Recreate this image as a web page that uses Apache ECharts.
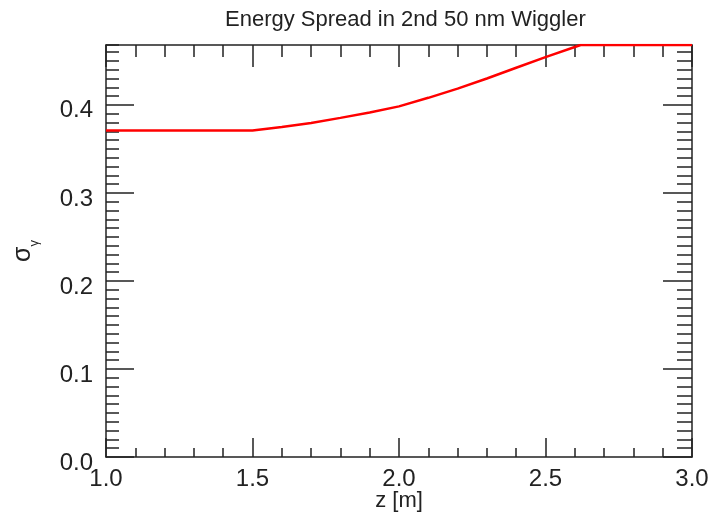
<!DOCTYPE html>
<html>
<head>
<meta charset="utf-8">
<script src="https://cdn.jsdelivr.net/npm/echarts@6/dist/echarts.min.js"></script>
<style>
  html, body { margin: 0; padding: 0; background: #fff; }
  #chart { width: 717px; height: 516px; }
</style>
</head>
<body>
<div id="chart"></div>
<script>
// Energy spread along the second 50 nm wiggler
const zPositions = [1.0, 1.1, 1.2, 1.3, 1.4, 1.5, 1.6, 1.7, 1.8, 1.9, 2.0, 2.1, 2.2, 2.3, 2.4, 2.5, 2.6, 2.62, 2.7, 2.8, 2.9, 3.0];
const sigmaGamma = [0.371, 0.371, 0.371, 0.371, 0.371, 0.371, 0.3748, 0.3795, 0.3852, 0.3913, 0.3983, 0.408, 0.4185, 0.430, 0.4422, 0.4542, 0.4657, 0.468, 0.468, 0.468, 0.468, 0.468];

const titleText = 'Energy Spread in 2nd 50 nm Wiggler';
const xName = 'z [m]';
const yMax = 0.468;

const FONT = 'Liberation Sans, Arial, Helvetica, sans-serif';
const INK = '#222';

const chart = echarts.init(document.getElementById('chart'), null, { renderer: 'canvas' });

const fmt1 = v => Number(v).toFixed(1);

function frameX(position, showLabels, majorLen, minorLen) {
  return {
    type: 'value', position: position, min: 1, max: 3, interval: 0.5,
    name: showLabels ? xName : '',
    nameLocation: 'middle', nameGap: 33, nameMoveOverlap: false,
    nameTextStyle: { fontFamily: FONT, fontSize: 22, color: INK },
    axisLine: { show: true, onZero: false, lineStyle: { color: INK, width: 1.5 } },
    axisTick: { show: true, inside: true, length: majorLen, lineStyle: { color: INK, width: 1.5 } },
    minorTick: { show: true, splitNumber: 5, length: minorLen, lineStyle: { color: INK, width: 1.5 } },
    axisLabel: { show: showLabels, margin: 10, formatter: fmt1, fontFamily: FONT, fontSize: 24, color: INK },
    splitLine: { show: false }, minorSplitLine: { show: false }
  };
}

function frameY(position, interval, showLabels, tickLen, showLine) {
  return {
    type: 'value', position: position, min: 0, max: yMax, interval: interval, offset: 0,
    axisLine: { show: showLine, onZero: false, lineStyle: { color: INK, width: 1.5 } },
    axisTick: { show: true, inside: true, length: tickLen, lineStyle: { color: INK, width: 1.5 } },
    axisLabel: {
      show: showLabels, showMaxLabel: false, margin: 13, formatter: fmt1,
      fontFamily: FONT, fontSize: 24, color: INK,
      verticalAlign: 'top', lineHeight: 12
    },
    splitLine: { show: false }
  };
}

const yLeft = frameY('left', 0.1, true, 28, true);
yLeft.name = '{s|σ}{g|γ}';
yLeft.nameLocation = 'middle';
yLeft.nameRotate = 90;
yLeft.nameGap = 70;
yLeft.nameMoveOverlap = false;
yLeft.nameTextStyle = {
  fontFamily: FONT, color: INK,
  rich: {
    s: { fontFamily: FONT, fontSize: 25, color: INK },
    g: { fontFamily: FONT, fontSize: 13, color: INK, verticalAlign: 'bottom', padding: [0, 0, -5, 0] }
  }
};

const option = {
  animation: false,
  backgroundColor: '#fff',
  title: {
    text: titleText, left: 220, top: 4,
    textStyle: { fontFamily: FONT, fontSize: 22, fontWeight: 'normal', color: INK }
  },
  grid: { left: 106, right: 25, top: 45, bottom: 59, containLabel: false, outerBoundsMode: 'none' },
  xAxis: [
    frameX('bottom', true, 19, 9),
    frameX('top', false, 22, 12)
  ],
  yAxis: [
    yLeft,
    frameY('left', 0.01, false, 13, false),
    frameY('right', 0.1, false, 29, true),
    frameY('right', 0.01, false, 15, false)
  ],
  series: [{
    type: 'line',
    xAxisIndex: 0, yAxisIndex: 0,
    data: zPositions.map((z, i) => [z, sigmaGamma[i]]),
    showSymbol: false, symbol: 'none',
    lineStyle: { color: '#ff0000', width: 2.5 },
    clip: true, z: 5
  }]
};

chart.setOption(option);
</script>
</body>
</html>
